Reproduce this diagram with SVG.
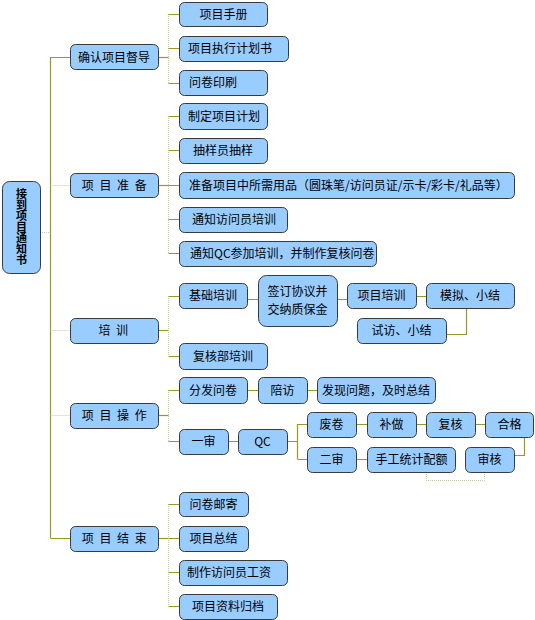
<svg xmlns="http://www.w3.org/2000/svg" width="535" height="620" viewBox="0 0 535 620">
<style>
.b{fill:#99ccff;stroke:#3a3a3a;stroke-width:1}
.t{font-family:"Noto Sans CJK SC","Liberation Sans",sans-serif;font-size:12px;fill:#000}
.m{text-anchor:middle}
.s{text-anchor:start}
.l1{letter-spacing:1.5px}
.c{fill:none;stroke:#999922;stroke-width:1.2}
.d{fill:none;stroke:#cccc88;stroke-width:1.2;stroke-dasharray:1 1}
.v{writing-mode:vertical-rl;text-orientation:upright;font-size:11px;font-weight:bold}
</style>
<rect width="535" height="620" fill="#fff"/>
<g id="connectors">
<path class="d" d="M40 232.5H50.5"/>
<path class="c" d="M50.5 57V538"/>
<path class="c" d="M50.5 57.5H70M50.5 538.5H70"/>
<path class="d" d="M50.5 185.5H70M50.5 330.5H70M50.5 415.5H70"/>
<path class="c" d="M158 57.5H168.5"/>
<path class="d" d="M168.5 14V83"/>
<path class="c" d="M168.5 14.5H179M168.5 48.5H179M168.5 83.5H179"/>
<path class="c" d="M158 185.5H168.5"/>
<path class="d" d="M168.5 116V254"/>
<path class="c" d="M168.5 116.5H179M168.5 150.5H179M168.5 185.5H179M168.5 219.5H179M168.5 253.5H179"/>
<path class="c" d="M158 330.5H168.5"/>
<path class="d" d="M168.5 296V356"/>
<path class="c" d="M168.5 296.5H179M168.5 356.5H179"/>
<path class="c" d="M247 299.5H258M337 299.5H347M416 296.5H426"/>
<path class="c" d="M466.5 308V334.5H446"/>
<path class="c" d="M158 415.5H168.5"/>
<path class="d" d="M168.5 390V441"/>
<path class="c" d="M168.5 390.5H179M168.5 441.5H179"/>
<path class="c" d="M247 390.5H258M307 390.5H317M228 441.5H238M287 441.5H297.5"/>
<path class="c" d="M297.5 424V459"/>
<path class="c" d="M297.5 424.5H307M297.5 459.5H307M356 424.5H367M416 424.5H426M475 424.5H485M356 459.5H367"/>
<path class="c" d="M524.5 437V455.5H514"/>
<path class="d" d="M426.5 472V480.5H484.5V472"/>
<path class="c" d="M158 538.5H168.5"/>
<path class="d" d="M168.5 504V606"/>
<path class="c" d="M168.5 504.5H179M168.5 538.5H179M168.5 572.5H179M168.5 606.5H179"/>
</g>
<g id="root"><rect class="b" x="2.5" y="181.5" width="38" height="92" rx="7"/>
<text class="t v" x="21.5" y="188">接到项目通知书</text></g>
<g id="n_queren"><rect class="b" x="70.5" y="44.5" width="88" height="25" rx="5"/><text class="t m" x="114" y="61.5">确认项目督导</text></g>
<g id="n_zhunbei"><rect class="b" x="70.5" y="173.5" width="88" height="24" rx="5"/><text class="t m l1" x="115" y="189.5">项 目 准 备</text></g>
<g id="n_peixun"><rect class="b" x="70.5" y="318.5" width="88" height="25" rx="5"/><text class="t m l1" x="114" y="335">培 训</text></g>
<g id="n_caozuo"><rect class="b" x="70.5" y="403.5" width="88" height="25" rx="5"/><text class="t m l1" x="115" y="420">项 目 操 作</text></g>
<g id="n_jieshu"><rect class="b" x="70.5" y="526.5" width="88" height="25" rx="5"/><text class="t m l1" x="115" y="543">项 目 结 束</text></g>
<g id="n_shouce"><rect class="b" x="179.5" y="2.5" width="88" height="24" rx="5"/><text class="t m" x="223.5" y="18.5">项目手册</text></g>
<g id="n_zhixing"><rect class="b" x="179.5" y="36.5" width="109" height="25" rx="5"/><text class="t s" x="188" y="53">项目执行计划书</text></g>
<g id="n_yinshua"><rect class="b" x="179.5" y="70.5" width="88" height="25" rx="5"/><text class="t s" x="189" y="87">问卷印刷</text></g>
<g id="n_jihua"><rect class="b" x="179.5" y="103.5" width="88" height="26" rx="5"/><text class="t s" x="188" y="120.5">制定项目计划</text></g>
<g id="n_chouyang"><rect class="b" x="179.5" y="138.5" width="88" height="25" rx="5"/><text class="t m" x="223" y="155">抽样员抽样</text></g>
<g id="n_yongpin"><rect class="b" x="179.5" y="172.5" width="335" height="26" rx="5"/><text class="t s" x="189" y="189.5">准备项目中所需用品（圆珠笔/访问员证/示卡/彩卡/礼品等）</text></g>
<g id="n_tongzhi"><rect class="b" x="179.5" y="207.5" width="108" height="25" rx="5"/><text class="t s" x="192" y="224">通知访问员培训</text></g>
<g id="n_qc"><rect class="b" x="179.5" y="241.5" width="197" height="25" rx="5"/><text class="t s" x="190" y="258">通知QC参加培训，并制作复核问卷</text></g>
<g id="n_jichu"><rect class="b" x="179.5" y="283.5" width="68" height="25" rx="5"/><text class="t m" x="213" y="300">基础培训</text></g>
<g id="n_qianding"><rect class="b" x="258.5" y="275.5" width="79" height="51" rx="8"/><text class="t m" x="297.5" y="296">签订协议并</text><text class="t m" x="297.5" y="314">交纳质保金</text></g>
<g id="n_xmpx"><rect class="b" x="347.5" y="283.5" width="69" height="25" rx="5"/><text class="t m" x="381.5" y="300">项目培训</text></g>
<g id="n_moni"><rect class="b" x="426.5" y="283.5" width="88" height="25" rx="5"/><text class="t m" x="470" y="300">模拟、小结</text></g>
<g id="n_shifang"><rect class="b" x="357.5" y="318.5" width="89" height="25" rx="5"/><text class="t m" x="401.5" y="335">试访、小结</text></g>
<g id="n_fuhebu"><rect class="b" x="179.5" y="343.5" width="88" height="26" rx="5"/><text class="t m" x="223" y="360.5">复核部培训</text></g>
<g id="n_fenfa"><rect class="b" x="179.5" y="377.5" width="68" height="26" rx="5"/><text class="t m" x="213" y="394.5">分发问卷</text></g>
<g id="n_peifang"><rect class="b" x="258.5" y="377.5" width="49" height="26" rx="5"/><text class="t m" x="282.5" y="394.5">陪访</text></g>
<g id="n_faxian"><rect class="b" x="317.5" y="377.5" width="118" height="26" rx="5"/><text class="t m" x="376" y="394.5">发现问题，及时总结</text></g>
<g id="n_yishen"><rect class="b" x="179.5" y="429.5" width="49" height="25" rx="5"/><text class="t m" x="203.5" y="446">一审</text></g>
<g id="n_qcnode"><rect class="b" x="238.5" y="429.5" width="49" height="25" rx="5"/><text class="t m" x="262.5" y="446">QC</text></g>
<g id="n_feijuan"><rect class="b" x="307.5" y="412.5" width="49" height="25" rx="5"/><text class="t m" x="331.5" y="429">废卷</text></g>
<g id="n_buzuo"><rect class="b" x="367.5" y="412.5" width="49" height="25" rx="5"/><text class="t m" x="391.5" y="429">补做</text></g>
<g id="n_fuhe"><rect class="b" x="426.5" y="412.5" width="49" height="25" rx="5"/><text class="t m" x="450.5" y="429">复核</text></g>
<g id="n_hege"><rect class="b" x="485.5" y="412.5" width="48" height="25" rx="5"/><text class="t m" x="509.5" y="429">合格</text></g>
<g id="n_ershen"><rect class="b" x="307.5" y="447.5" width="49" height="25" rx="5"/><text class="t m" x="331.5" y="464">二审</text></g>
<g id="n_shougong"><rect class="b" x="367.5" y="447.5" width="88" height="25" rx="5"/><text class="t m" x="411.5" y="464">手工统计配额</text></g>
<g id="n_shenhe"><rect class="b" x="465.5" y="447.5" width="49" height="25" rx="5"/><text class="t m" x="489.5" y="464">审核</text></g>
<g id="n_youji"><rect class="b" x="179.5" y="492.5" width="69" height="24" rx="5"/><text class="t m" x="213.5" y="508.5">问卷邮寄</text></g>
<g id="n_zongjie"><rect class="b" x="179.5" y="526.5" width="69" height="25" rx="5"/><text class="t m" x="213.5" y="543">项目总结</text></g>
<g id="n_gongzi"><rect class="b" x="179.5" y="560.5" width="108" height="25" rx="5"/><text class="t s" x="187" y="577">制作访问员工资</text></g>
<g id="n_guidang"><rect class="b" x="179.5" y="594.5" width="98" height="25" rx="5"/><text class="t m" x="228" y="611">项目资料归档</text></g>
</svg>
